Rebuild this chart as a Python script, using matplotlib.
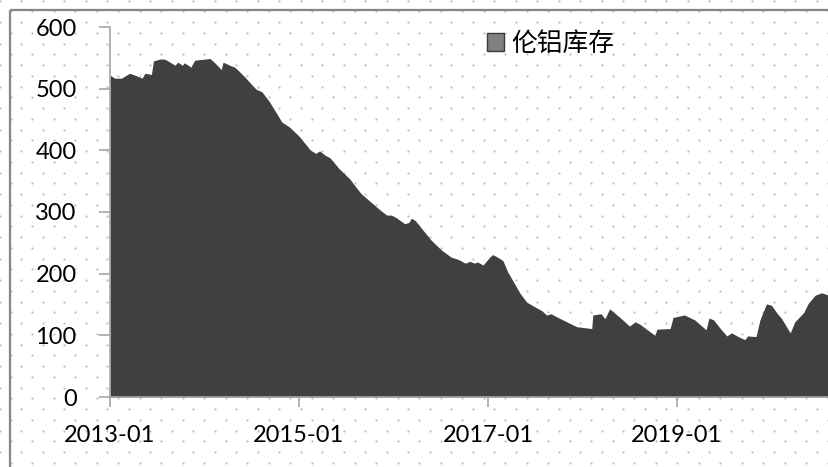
import numpy as np
import pandas as pd
import matplotlib
matplotlib.use("Agg")
import matplotlib.pyplot as plt
import matplotlib.dates as mdates
from matplotlib.patches import Patch, Rectangle

# LME aluminium stocks (thousand tonnes)
dates = [
    "2013-01-01", "2013-01-19", "2013-02-14", "2013-03-18", "2013-04-13", "2013-05-05",
    "2013-05-16", "2013-06-10", "2013-06-18", "2013-07-13", "2013-07-31", "2013-08-25",
    "2013-09-09", "2013-09-20", "2013-10-08", "2013-10-15", "2013-11-10", "2013-11-24",
    "2013-12-12", "2014-01-04", "2014-01-22", "2014-02-10", "2014-03-07", "2014-03-14",
    "2014-04-09", "2014-04-27", "2014-05-08", "2014-06-06", "2014-07-02", "2014-07-20",
    "2014-08-11", "2014-09-09", "2014-10-27", "2014-11-25", "2015-01-04", "2015-02-13",
    "2015-03-07", "2015-03-22", "2015-04-13", "2015-05-01", "2015-06-06", "2015-07-16",
    "2015-08-03", "2015-08-29", "2015-10-01", "2015-11-03", "2015-12-06", "2015-12-24",
    "2016-01-12", "2016-02-14", "2016-03-01", "2016-03-11", "2016-03-26", "2016-04-20",
    "2016-05-27", "2016-07-06", "2016-08-11", "2016-09-09", "2016-10-05", "2016-10-23",
    "2016-11-10", "2016-11-21", "2016-12-13", "2017-01-08", "2017-01-19", "2017-02-10",
    "2017-02-28", "2017-03-18", "2017-04-09", "2017-05-05", "2017-05-30", "2017-07-02",
    "2017-07-28", "2017-08-15", "2017-09-02", "2017-09-28", "2017-12-10", "2018-02-06",
    "2018-02-10", "2018-03-14", "2018-03-29", "2018-04-16", "2018-05-26", "2018-07-02",
    "2018-07-24", "2018-08-11", "2018-10-08", "2018-10-16", "2018-12-06", "2018-12-17",
    "2019-01-30", "2019-03-11", "2019-04-24", "2019-05-05", "2019-05-23", "2019-06-18",
    "2019-07-13", "2019-07-31", "2019-08-26", "2019-09-21", "2019-10-01", "2019-11-03",
    "2019-11-18", "2019-12-13", "2020-01-01", "2020-01-23", "2020-02-10", "2020-03-14",
    "2020-04-01", "2020-05-05", "2020-05-23", "2020-06-18", "2020-07-13", "2020-08-11",
]
stock = [
    522, 517, 517, 525, 521, 517,
    525, 523, 545, 548, 548, 542,
    538, 543, 538, 542, 535, 546,
    547, 548, 549, 542, 531, 543,
    538, 535, 531, 519, 507, 499,
    495, 479, 446, 438, 422, 401,
    395, 399, 392, 388, 370, 354,
    344, 330, 318, 306, 295, 295,
    291, 281, 283, 290, 286, 273,
    254, 238, 227, 223, 217, 220,
    217, 219, 214, 227, 231, 226,
    221, 203, 187, 168, 154, 146,
    140, 133, 135, 129, 114, 111,
    133, 135, 127, 143, 129, 115,
    122, 118, 100, 110, 111, 129,
    133, 125, 109, 128, 125, 111,
    99, 104, 98, 93, 99, 98,
    125, 151, 149, 136, 127, 104,
    122, 137, 152, 165, 169, 165,
]
series_name = "伦铝库存"
y_ticks = [0, 100, 200, 300, 400, 500, 600]
x_ticks = ["2013-01-01", "2015-01-01", "2017-01-01", "2019-01-01"]

x = pd.to_datetime(dates)

fig = plt.figure(figsize=(8.29, 4.67), dpi=100)

# dotted background + outer frame, drawn in pixel coordinates
bg = fig.add_axes([0, 0, 1, 1], zorder=0)
bg.set_xlim(0, 829)
bg.set_ylim(467, 0)
bg.axis("off")
step = 10.75
gx, gy = np.meshgrid(np.arange(0, 840, step), np.arange(0.5, 480, step))
ii, jj = np.meshgrid(np.arange(gx.shape[1]), np.arange(gx.shape[0]))
mask = (ii + jj) % 2 == 0
bg.scatter(gx[mask], gy[mask], s=2.6, color="#c0c0c0", linewidths=0)
bg.add_patch(Rectangle((10, 10), 900, 500, fill=False, edgecolor="#878787", lw=1.6))

ax = fig.add_axes([110 / 829, 70 / 467, 1 - 110 / 829, 370 / 467], zorder=1)
ax.patch.set_alpha(0)
ax.fill_between(x, 0, stock, color="#404040", linewidth=0)

ax.set_xlim(pd.Timestamp("2013-01-01"), pd.Timestamp("2020-08-11"))
ax.set_ylim(0, 600)
ax.set_yticks(y_ticks)
ax.set_xticks(pd.to_datetime(x_ticks))
ax.xaxis.set_major_formatter(mdates.DateFormatter("%Y-%m"))

for side in ["top", "right"]:
    ax.spines[side].set_visible(False)
for side in ["left", "bottom"]:
    ax.spines[side].set_color("#a6a6a6")
    ax.spines[side].set_linewidth(1.2)

ax.tick_params(axis="y", length=8, width=1.2, color="#a6a6a6", pad=16,
               labelsize=17, labelcolor="black")
ax.tick_params(axis="x", length=7, width=1.2, color="#a6a6a6", pad=13,
               labelsize=17, labelcolor="black")
for lab in ax.get_xticklabels() + ax.get_yticklabels():
    lab.set_family(["Lato", "DejaVu Sans"])

handle = Patch(facecolor="#808080", edgecolor="#3a3a3a", label=series_name)
ax.legend(handles=[handle], loc="center left", bbox_to_anchor=(487 / 829, 1 - 44 / 467),
          bbox_transform=fig.transFigure, frameon=False, borderpad=0, borderaxespad=0,
          handlelength=0.65, handleheight=0.65, handletextpad=0.3,
          prop={"family": ["Noto Sans CJK SC", "DejaVu Sans"], "size": 18.5})

fig.savefig("out.png", dpi=100)
